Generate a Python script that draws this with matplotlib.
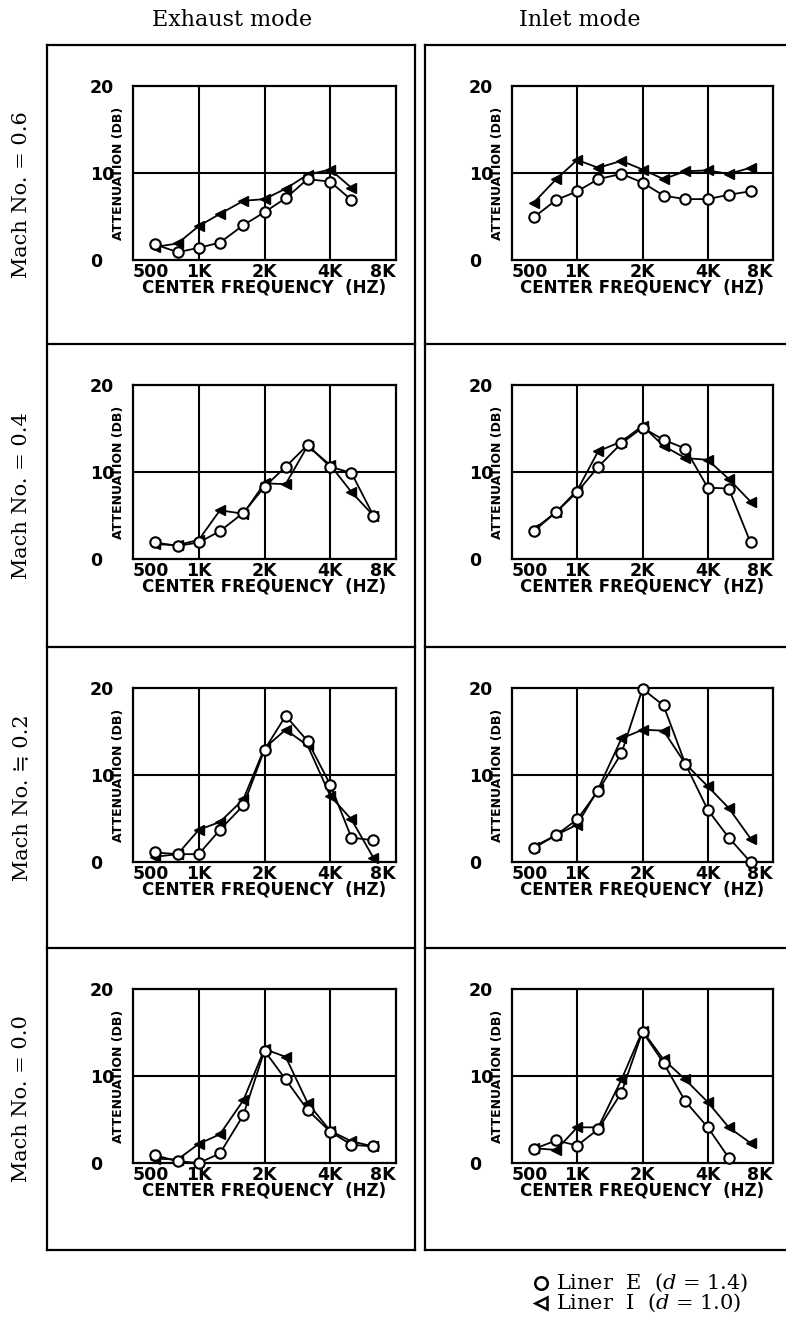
import numpy as np
import matplotlib.pyplot as plt
from matplotlib.lines import Line2D

# 1/3-octave center frequencies (Hz)
freq = [630, 800, 1000, 1250, 1600, 2000, 2500, 3150, 4000, 5000, 6300]
xticks = [500, 1000, 2000, 4000, 8000]
xticklabels = ["500", "1K", "2K", "4K", "8K"]

# attenuation (dB), Liner E = circles, Liner I = triangles
exh_06_E = [1.8, 0.9, 1.4, 2.0, 4.0, 5.5, 7.1, 9.3, 9.0, 6.9]
exh_06_I = [1.5, 1.9, 3.9, 5.3, 6.8, 7.0, 8.2, 9.8, 10.4, 8.3]
inl_06_E = [4.9, 6.9, 7.9, 9.3, 9.9, 8.9, 7.4, 7.0, 7.0, 7.5, 7.9]
inl_06_I = [6.6, 9.3, 11.5, 10.6, 11.4, 10.4, 9.3, 10.2, 10.3, 9.9, 10.6]

exh_04_E = [1.9, 1.5, 1.9, 3.2, 5.3, 8.3, 10.6, 13.1, 10.6, 9.9, 5.0]
exh_04_I = [1.7, 1.6, 2.2, 5.6, 5.2, 8.7, 8.6, 13.0, 10.8, 7.7, 5.0]
inl_04_E = [3.2, 5.4, 7.7, 10.6, 13.3, 15.1, 13.7, 12.7, 8.2, 8.1, 1.9]
inl_04_I = [3.4, 5.4, 7.9, 12.4, 13.5, 15.3, 13.0, 11.6, 11.4, 9.2, 6.6]

exh_02_E = [1.1, 0.9, 0.9, 3.7, 6.5, 12.9, 16.8, 13.9, 8.9, 2.8, 2.5]
exh_02_I = [0.6, 0.9, 3.7, 4.6, 7.2, 13.1, 15.2, 13.4, 7.6, 4.9, 0.5]
inl_02_E = [1.6, 3.1, 4.9, 8.2, 12.5, 19.9, 18.0, 11.3, 6.0, 2.8, 0.0]
inl_02_I = [1.75, 3.1, 4.3, 8.4, 14.2, 15.2, 15.1, 11.3, 8.7, 6.2, 2.7]

exh_00_E = [0.9, 0.2, 0.0, 1.1, 5.5, 12.9, 9.6, 6.1, 3.6, 2.1, 1.9]
exh_00_I = [0.5, 0.4, 2.2, 3.3, 7.2, 13.1, 12.2, 6.9, 3.7, 2.5, 1.9]
inl_00_E = [1.6, 2.6, 2.0, 3.9, 8.1, 15.1, 11.5, 7.1, 4.1, 0.6]
inl_00_I = [1.7, 1.5, 4.1, 4.1, 9.6, 15.2, 11.9, 9.6, 7.0, 4.1, 2.3]

mach_labels = ["Mach No. = 0.6", "Mach No. = 0.4", "Mach No. \u2252 0.2", "Mach No. = 0.0"]
col_titles = ["Exhaust mode", "Inlet mode"]
legend_labels = ["Liner  E  ($d$ = 1.4)", "Liner  I  ($d$ = 1.0)"]

W, H = 786, 1326
serif = ["DejaVu Serif", "Noto Sans CJK JP"]
plt.rcParams["mathtext.fontset"] = "dejavuserif"

fig = plt.figure(figsize=(W / 100, H / 100), dpi=100)


def fx(x):
    return x / W


def fy(y):
    return 1 - y / H


def px_axes(x0, y0, x1, y1):
    return fig.add_axes([fx(x0), fy(y1), (x1 - x0) / W, (y1 - y0) / H])


def panel(ax, e_vals, i_vals):
    ax.plot(freq[:len(i_vals)], i_vals, color="black", lw=1.3, marker="<", ms=7,
            mfc="black", mec="black", clip_on=False, zorder=3)
    ax.plot(freq[:len(e_vals)], e_vals, color="black", lw=1.3, marker="o", ms=7.5,
            mfc="white", mec="black", mew=1.5, clip_on=False, zorder=4)
    ax.set_xscale("log", base=2)
    ax.set_xlim(500, 8000)
    ax.set_ylim(0, 20)
    ax.set_xticks(xticks)
    ax.set_xticklabels(xticklabels)
    ax.minorticks_off()
    ax.set_yticks([0, 10, 20])
    for f in [1000, 2000, 4000]:
        ax.axvline(f, color="black", lw=1.5, zorder=1)
    ax.axhline(10, color="black", lw=1.5, zorder=1)
    for s in ax.spines.values():
        s.set_linewidth(1.6)
    ax.tick_params(length=0, labelsize=12.5)
    ax.tick_params(axis="x", pad=2)
    ax.tick_params(axis="y", pad=31)
    for lbl in ax.get_yticklabels():
        lbl.set_ha("left")
        lbl.set_fontweight("bold")
    labs = ax.get_xticklabels()
    for lbl in labs:
        lbl.set_fontweight("bold")
    labs[0].set_ha("left")
    labs[-1].set_ha("right")
    ax.set_xlabel("CENTER FREQUENCY  (HZ)", fontsize=12, fontweight="bold", labelpad=-1.5)
    ax.text(-0.055, 0.5, "ATTENUATION (DB)", transform=ax.transAxes, rotation=90,
            fontsize=9, fontweight="bold", ha="center", va="center")


data = [
    (exh_06_E, exh_06_I, inl_06_E, inl_06_I),
    (exh_04_E, exh_04_I, inl_04_E, inl_04_I),
    (exh_02_E, exh_02_I, inl_02_E, inl_02_I),
    (exh_00_E, exh_00_I, inl_00_E, inl_00_I),
]

row_tops = [45, 344, 647, 948, 1250]
for r, (eE, eI, iE, iI) in enumerate(data):
    top = row_tops[r] + 41
    bot = top + 174
    panel(px_axes(133, top, 396, bot), eE, eI)
    panel(px_axes(512, top, 773, bot), iE, iI)
    yc = (row_tops[r] + row_tops[r + 1]) / 2
    fig.text(fx(22), fy(yc), mach_labels[r], rotation=90, family=serif,
             fontsize=15, ha="center", va="center")


def hline(x0, x1, y):
    fig.add_artist(Line2D([fx(x0), fx(x1)], [fy(y), fy(y)], transform=fig.transFigure,
                          color="black", lw=1.6))


def vline(x, y0, y1):
    fig.add_artist(Line2D([fx(x), fx(x)], [fy(y0), fy(y1)], transform=fig.transFigure,
                          color="black", lw=1.6))


# boxes around each column, with row separators
for x0, x1 in [(47, 415), (425, 786)]:
    for y in row_tops:
        hline(x0, x1, y)
vline(47, 45, 1250)
vline(415, 45, 1250)
vline(425, 45, 1250)

fig.text(fx(232), fy(20), col_titles[0], family=serif, fontsize=16, ha="center", va="center")
fig.text(fx(580), fy(20), col_titles[1], family=serif, fontsize=16, ha="center", va="center")

# legend
leg_y = [1283, 1303]
leg_marker = ["o", "<"]
for yy, mk, lab in zip(leg_y, leg_marker, legend_labels):
    fig.add_artist(Line2D([fx(541)], [fy(yy)], transform=fig.transFigure, ls="none",
                          marker=mk, ms=9, mfc="white", mec="black", mew=1.8))
    fig.text(fx(556), fy(yy), lab, family=serif, fontsize=15, ha="left", va="center")

fig.savefig("out.png", dpi=100)
